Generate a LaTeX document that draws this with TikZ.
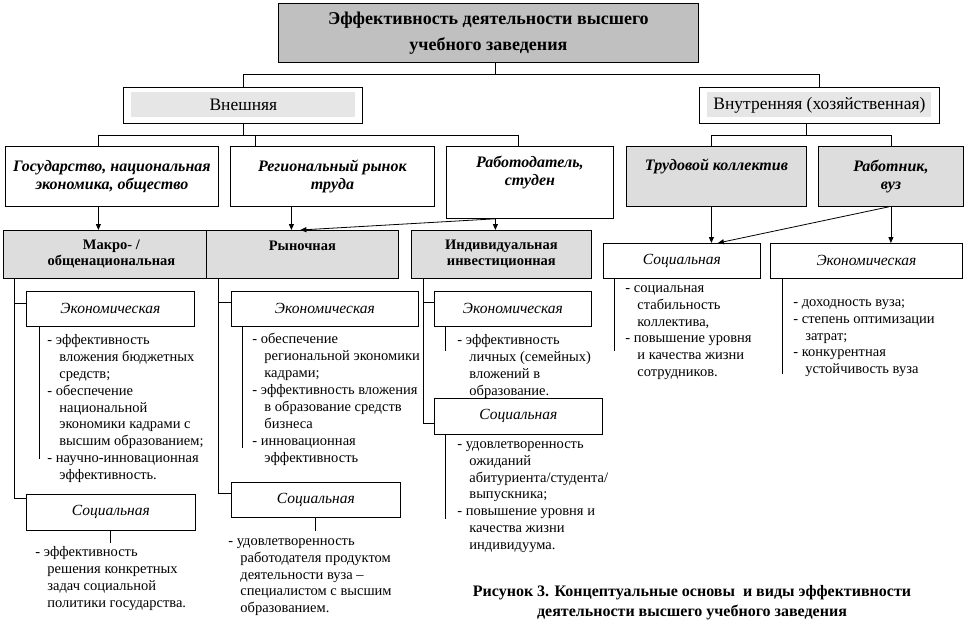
\documentclass[tikz,border=0pt]{standalone}
\usepackage{fontspec}
\setmainfont{Liberation Serif}
\usetikzlibrary{arrows.meta}
\definecolor{titlegray}{HTML}{C0C0C0}
\definecolor{boxgray}{HTML}{DDDDDD}
\definecolor{innergray}{HTML}{E6E6E6}
\newcommand{\indt}{\hspace*{12pt}}

\begin{document}
\begin{tikzpicture}[x=1pt, y=1pt, line width=0.8pt,
    box/.style 2 args={draw, anchor=north west, inner sep=0pt, align=center,
        minimum width=#1, minimum height=#2},
    grey/.style={fill=boxgray},
    headtxt/.style={font=\fontsize{16}{18}\selectfont\bfseries\itshape},
    typetxt/.style={font=\fontsize{14.5}{16}\selectfont\bfseries},
    kindtxt/.style={font=\fontsize{15.5}{17}\selectfont\itshape},
    listtxt/.style={anchor=north west, inner sep=0pt, align=left,
        font=\fontsize{14.5}{16.9}\selectfont},
    arr/.style={-{Triangle[length=6pt,width=5pt]}}]

    \useasboundingbox (0,0) rectangle (966,-629);

    \node[box={420}{59}, fill=titlegray, font=\fontsize{18}{26}\selectfont\bfseries] (eff) at (278,-3)
        {Эффективность деятельности высшего\\учебного заведения};

    \node[box={239}{36}] (vnesh) at (123,-87) {};
    \node[box={224}{25}, draw=none, fill=innergray, font=\fontsize{17.5}{18}\selectfont] (vneshlbl) at (131,-92) {Внешняя};
    \node[box={240}{36}] (vnutr) at (699,-87) {};
    \node[box={224}{25}, draw=none, fill=innergray, font=\fontsize{17.5}{18}\selectfont] (vnutrlbl) at (707,-92) {Внутренняя (хозяйственная)};

    \node[box={213}{60}, headtxt] (gos) at (5,-146) {Государство, национальная\\экономика, общество};
    \node[box={204}{60}, headtxt] (reg) at (230,-146) {Региональный рынок\\труда};
    \node[box={167}{72}, headtxt] (rab) at (446,-146) {Работодатель,\\студен\\ \strut};
    \node[box={180}{60}, headtxt, grey] (trud) at (626,-146) {Трудовой коллектив\\ \strut};
    \node[box={145}{60}, headtxt, grey] (rabv) at (818,-146) {Работник,\\вуз};

    \node[box={216}{48}, typetxt, grey] (makro) at (3,-230) {Макро- /\\общенациональная};
    \node[box={192}{48}, typetxt, grey] (rynok) at (206,-230) {Рыночная\\[-3pt] \strut};
    \node[box={180}{48}, typetxt, grey] (indiv) at (411,-230) {Индивидуальная\\инвестиционная};

    \node[box={168}{35}, kindtxt] (mekon) at (26,-291) {Экономическая};
    \node[box={169}{36}, kindtxt] (msoc) at (26,-494) {Социальная};
    \node[box={187}{35}, kindtxt] (rekon) at (231,-291) {Экономическая};
    \node[box={169}{35}, kindtxt] (rsoc) at (231,-482) {Социальная};
    \node[box={157}{35}, kindtxt] (iekon) at (434,-291) {Экономическая};
    \node[box={168}{36}, kindtxt] (isoc) at (434,-398) {Социальная};
    \node[box={157}{35}, kindtxt] (vsoc) at (603,-243) {Социальная};
    \node[box={192}{35}, kindtxt] (vekon) at (770,-243) {Экономическая};

    \node[listtxt] (mekontxt) at (47,-334) {- эффективность\\\indt вложения бюджетных\\\indt средств;\\- обеспечение\\\indt национальной\\\indt экономики кадрами с\\\indt высшим образованием;\\- научно-инновационная\\\indt эффективность.};
    \node[listtxt] (msoctxt) at (35,-546) {- эффективность\\\indt решения конкретных\\\indt задач социальной\\\indt политики государства.};
    \node[listtxt] (rekontxt) at (252,-333) {- обеспечение\\\indt региональной экономики\\\indt кадрами;\\- эффективность вложения\\\indt в образование средств\\\indt бизнеса\\- инновационная\\\indt эффективность};
    \node[listtxt] (rsoctxt) at (228,-538) {- удовлетворенность\\\indt работодателя продуктом\\\indt деятельности вуза –\\\indt специалистом с высшим\\\indt образованием.};
    \node[listtxt] (iekontxt) at (457,-334) {- эффективность\\\indt личных (семейных)\\\indt вложений в\\\indt образование.};
    \node[listtxt] (isoctxt) at (457,-441) {- удовлетворенность\\\indt ожиданий\\\indt абитуриента/студента/\\\indt выпускника;\\- повышение уровня и\\\indt качества жизни\\\indt индивидуума.};
    \node[listtxt] (vsoctxt) at (625,-285) {- социальная\\\indt стабильность\\\indt коллектива,\\- повышение уровня\\\indt и качества жизни\\\indt сотрудников.};
    \node[listtxt] (vekontxt) at (793,-299) {- доходность вуза;\\- степень оптимизации\\\indt затрат;\\- конкурентная\\\indt устойчивость вуза};

    \node[font=\fontsize{16}{20}\selectfont\bfseries, align=center] (cap) at (692,-603)
        {Рисунок 3. Концептуальные основы\ \ и виды эффективности\\деятельности высшего учебного заведения};

    \draw ([xshift=7pt]eff.south) -- ++(0,-12) -| (vnesh.north);
    \draw ([xshift=7pt]eff.south) ++(0,-12) -| (vnutr.north);
    \draw (vnesh.south) -- ++(0,-12) -| ([xshift=-13.5pt]gos.north);
    \draw (vnesh.south) ++(0,-12) -| ([xshift=-11.5pt]rab.north);
    \draw ([xshift=-77pt]reg.north) -- ++(0,11);
    \draw ([xshift=-13pt]vnutr.south) -- ++(0,-12) -| ([xshift=-5pt]trud.north);
    \draw ([xshift=-13pt]vnutr.south) ++(0,-12) -| (rabv.north);

    \draw[arr] ([xshift=-13.5pt]gos.south) -- ([xshift=-13pt]makro.north);
    \draw[arr] ([xshift=-41pt]reg.south) -- ([xshift=-11pt]rynok.north);
    \draw[arr] ([xshift=-34.5pt]rab.south) -- ([xshift=-6pt]indiv.north);
    \draw[arr] ([xshift=-34.5pt]rab.south) -- ([xshift=-2pt]rynok.north);
    \draw[arr] ([xshift=-5pt]trud.south) -- ([xshift=29.5pt]vsoc.north);
    \draw[arr] (rabv.south) -- ([xshift=24.5pt]vekon.north);
    \draw[arr] ([xshift=-2pt]rabv.south) -- ([xshift=36pt]vsoc.north);

    \draw ([xshift=11pt]makro.south west) |- ([yshift=-12pt]mekon.north west);
    \draw ([xshift=11pt]makro.south west) |- ([yshift=-4pt]msoc.north west);
    \draw ([xshift=12pt]rynok.south west) |- ([yshift=-11pt]rekon.north west);
    \draw ([xshift=12pt]rynok.south west) |- ([yshift=-11pt]rsoc.north west);
    \draw ([xshift=12pt]indiv.south west) |- ([yshift=-11pt]iekon.north west);
    \draw ([xshift=12pt]indiv.south west) |- ([yshift=-25pt]isoc.north west);

    \draw ([xshift=13pt]mekon.south west) -- ++(0,-132);
    \draw ([xshift=84pt]msoc.south west) -- ++(0,-12);
    \draw ([xshift=11pt]rekon.south west) -- ++(0,-121);
    \draw ([xshift=84pt]rsoc.south west) -- ++(0,-13);
    \draw ([xshift=11pt]iekon.south west) -- ++(0,-24);
    \draw ([xshift=11pt]isoc.south west) -- ++(0,-84);
    \draw ([xshift=11pt]vsoc.south west) -- ++(0,-72);
    \draw ([xshift=12pt]vekon.south west) -- ++(0,-95);
\end{tikzpicture}
\end{document}
